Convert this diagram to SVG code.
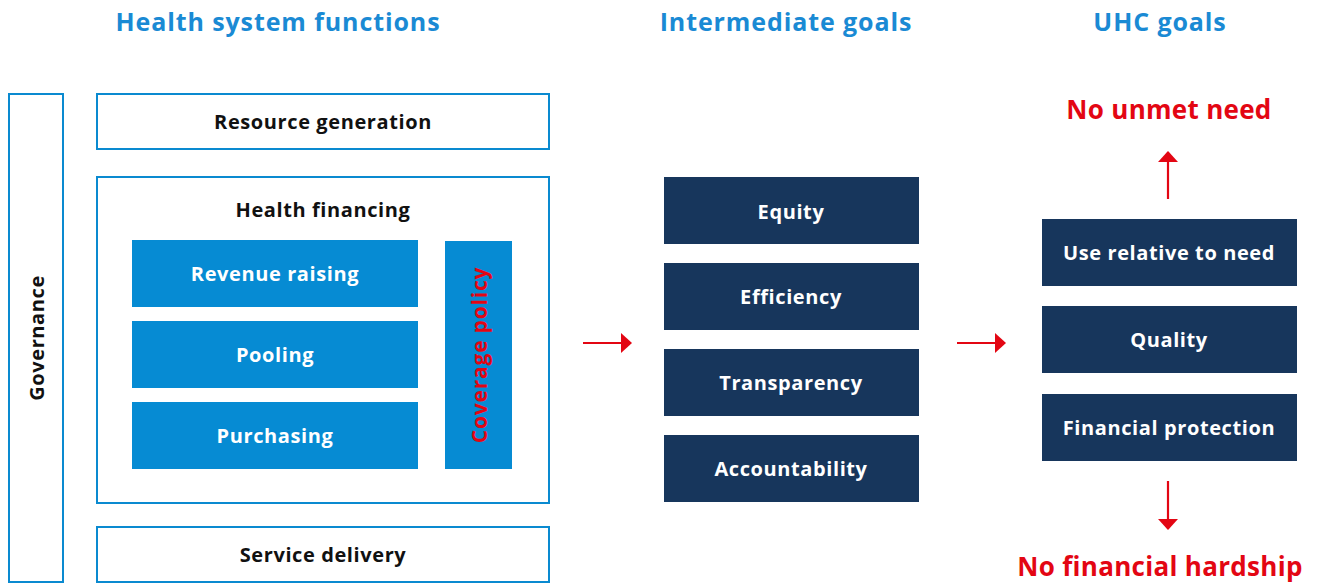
<svg xmlns="http://www.w3.org/2000/svg" width="1317" height="583" viewBox="0 0 1317 583">
<defs>
<style>
.hdr{font-family:"Open Sans","Liberation Sans",sans-serif;font-weight:700;font-size:25px;letter-spacing:0.9px;fill:#1a8ad4;text-anchor:middle}
.frame{fill:#fff;stroke:#0a8ad0;stroke-width:2}
.lbl{font-family:"Open Sans","Liberation Sans",sans-serif;font-weight:700;font-size:20px;letter-spacing:0.6px;fill:#111;text-anchor:middle}
.wlbl{font-family:"Open Sans","Liberation Sans",sans-serif;font-weight:700;font-size:20px;letter-spacing:0.6px;fill:#fff;text-anchor:middle}
.rlbl{font-family:"Open Sans","Liberation Sans",sans-serif;font-weight:700;font-size:21px;letter-spacing:0.8px;fill:#e30613;text-anchor:middle}
.big{font-family:"Open Sans","Liberation Sans",sans-serif;font-weight:700;font-size:26px;letter-spacing:0.3px;fill:#e30613;text-anchor:middle}
.lb{fill:#068bd3}
.db{fill:#17365c}
.arr{stroke:#e30613;stroke-width:2.2;fill:none;marker-end:url(#ah)}
</style>
<marker id="ah" viewBox="0 0 11 20" refX="10" refY="10" markerWidth="11" markerHeight="20" markerUnits="userSpaceOnUse" orient="auto">
<path d="M0,0 L11,10 L0,20 Z" fill="#e30613"/>
</marker>
</defs>
<rect width="1317" height="583" fill="#fff"/>
<g id="headers">
<text class="hdr" x="278" y="31">Health system functions</text>
<text class="hdr" x="786" y="31">Intermediate goals</text>
<text class="hdr" x="1160" y="31">UHC goals</text>
</g>
<g id="governance">
<rect class="frame" x="9" y="94" width="54" height="488"/>
<text class="lbl" transform="translate(44,338) rotate(-90)">Governance</text>
</g>
<g id="resource-generation">
<rect class="frame" x="97" y="94" width="452" height="55"/>
<text class="lbl" x="323" y="129">Resource generation</text>
</g>
<g id="health-financing">
<rect class="frame" x="97" y="177" width="452" height="326"/>
<text class="lbl" x="323" y="217">Health financing</text>
</g>
<g id="revenue-raising">
<rect class="lb" x="132" y="240" width="286" height="67"/>
<text class="wlbl" x="275" y="281">Revenue raising</text>
</g>
<g id="pooling">
<rect class="lb" x="132" y="321" width="286" height="67"/>
<text class="wlbl" x="275" y="362">Pooling</text>
</g>
<g id="purchasing">
<rect class="lb" x="132" y="402" width="286" height="67"/>
<text class="wlbl" x="275" y="443">Purchasing</text>
</g>
<g id="coverage-policy">
<rect class="lb" x="445" y="241" width="67" height="228"/>
<text class="rlbl" transform="translate(487,355) rotate(-90)">Coverage policy</text>
</g>
<g id="service-delivery">
<rect class="frame" x="97" y="527" width="452" height="55"/>
<text class="lbl" x="323" y="562">Service delivery</text>
</g>
<g id="equity">
<rect class="db" x="664" y="177" width="255" height="67"/>
<text class="wlbl" x="791" y="219">Equity</text>
</g>
<g id="efficiency">
<rect class="db" x="664" y="263" width="255" height="67"/>
<text class="wlbl" x="791" y="304">Efficiency</text>
</g>
<g id="transparency">
<rect class="db" x="664" y="349" width="255" height="67"/>
<text class="wlbl" x="791" y="390">Transparency</text>
</g>
<g id="accountability">
<rect class="db" x="664" y="435" width="255" height="67"/>
<text class="wlbl" x="791" y="476">Accountability</text>
</g>
<g id="use-relative">
<rect class="db" x="1042" y="219" width="255" height="67"/>
<text class="wlbl" x="1169" y="260">Use relative to need</text>
</g>
<g id="quality">
<rect class="db" x="1042" y="306" width="255" height="67"/>
<text class="wlbl" x="1169" y="347">Quality</text>
</g>
<g id="financial-protection">
<rect class="db" x="1042" y="394" width="255" height="67"/>
<text class="wlbl" x="1169" y="435">Financial protection</text>
</g>
<g id="no-unmet-need">
<text class="big" x="1169" y="119">No unmet need</text>
</g>
<g id="no-financial-hardship">
<text class="big" x="1160" y="576">No financial hardship</text>
</g>
<g id="connectors">
<line class="arr" x1="583" y1="343" x2="631" y2="343"/>
<line class="arr" x1="957" y1="343" x2="1005" y2="343"/>
<line class="arr" x1="1168" y1="199" x2="1168" y2="152"/>
<line class="arr" x1="1168" y1="481" x2="1168" y2="529"/>
</g>
</svg>
